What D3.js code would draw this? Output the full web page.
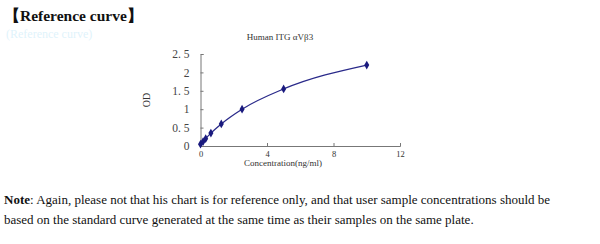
<!DOCTYPE html>
<html><head><meta charset="utf-8">
<script src="https://cdn.jsdelivr.net/npm/d3@7"></script>
<style>body{margin:0;background:#fff;}svg{display:block;}</style>
</head><body>
<script>
const concentrations = [0, 0.156, 0.312, 0.625, 1.25, 2.5, 5, 10];
const odValues = [0.05, 0.12, 0.2, 0.35, 0.6, 1.0, 1.55, 2.2];
const xTicks = [0, 4, 8, 12];
const yTicks = [0, 0.5, 1, 1.5, 2, 2.5];
const yTickLabels = ["0", "0. 5", "1", "1. 5", "2", "2. 5"];

const W = 600, H = 244;
const svg = d3.select("body").append("svg").attr("width", W).attr("height", H);
const serif = "'Liberation Serif','DejaVu Serif',serif";

svg.append("text").attr("x", 4).attr("y", 21).attr("font-family", serif)
  .attr("font-weight", "bold").attr("font-size", 15.5).attr("fill", "#111")
  .text("【Reference curve】");
svg.append("text").attr("x", 6).attr("y", 38).attr("font-family", serif)
  .attr("font-size", 12).attr("fill", "#dff3fb").text("(Reference curve)");

const x = d3.scaleLinear().domain([0, 12]).range([200.5, 400]);
const y = d3.scaleLinear().domain([0, 2.5]).range([146, 54]);

const g = svg.append("g");
const xAxis = d3.axisBottom(x).tickValues(xTicks).tickSize(-3).tickPadding(5).tickFormat(d3.format("d"));
const gx = g.append("g").attr("transform", `translate(0,${y(0)})`).call(xAxis);
gx.select(".domain").attr("stroke", "#777");
gx.selectAll(".tick line").attr("stroke", "#777");
gx.selectAll("text").attr("font-family", serif).attr("font-size", 8.5).attr("fill", "#333");

const yAxis = d3.axisLeft(y).tickValues(yTicks).tickSize(-3).tickPadding(11)
  .tickFormat((d, i) => yTickLabels[i]);
const gy = g.append("g").attr("transform", `translate(${x(0)},0)`).call(yAxis);
gy.select(".domain").attr("stroke", "#777");
gy.selectAll(".tick line").attr("stroke", "#777");
gy.selectAll("text").attr("font-family", serif).attr("font-size", 11.5).attr("fill", "#444");

svg.append("text").attr("x", 280).attr("y", 40).attr("text-anchor", "middle")
  .attr("font-family", serif).attr("font-size", 9).attr("fill", "#333").text("Human  ITG αVβ3");
svg.append("text").attr("transform", "translate(150,100) rotate(-90)").attr("text-anchor", "middle")
  .attr("font-family", serif).attr("font-size", 10).attr("fill", "#333").text("OD");
svg.append("text").attr("x", 283).attr("y", 166).attr("text-anchor", "middle")
  .attr("font-family", serif).attr("font-size", 9).attr("fill", "#333").text("Concentration(ng/ml)");

const pts = concentrations.map((c, i) => [c, odValues[i]]);
const line = d3.line().x(d => x(d[0])).y(d => y(d[1])).curve(d3.curveMonotoneX);
svg.append("path").datum(pts).attr("d", line).attr("fill", "none")
  .attr("stroke", "#2a2a8a").attr("stroke-width", 1.3);
svg.selectAll(".pt").data(pts).enter().append("path")
  .attr("transform", d => `translate(${x(d[0])},${y(d[1])})`)
  .attr("d", d3.symbol().type(d3.symbolDiamond).size(22))
  .attr("fill", "#1a1a7e");

const note = svg.append("text").attr("x", 4).attr("y", 204).attr("font-family", serif)
  .attr("font-size", 13).attr("fill", "#111");
note.append("tspan").attr("font-weight", "bold").text("Note");
note.append("tspan").text(": Again, please not that his chart is for reference only, and that user sample concentrations should be");
svg.append("text").attr("x", 4).attr("y", 224).attr("font-family", serif)
  .attr("font-size", 13).attr("fill", "#111")
  .text("based on the standard curve generated at the same time as their samples on the same plate.");
</script>
</body></html>
